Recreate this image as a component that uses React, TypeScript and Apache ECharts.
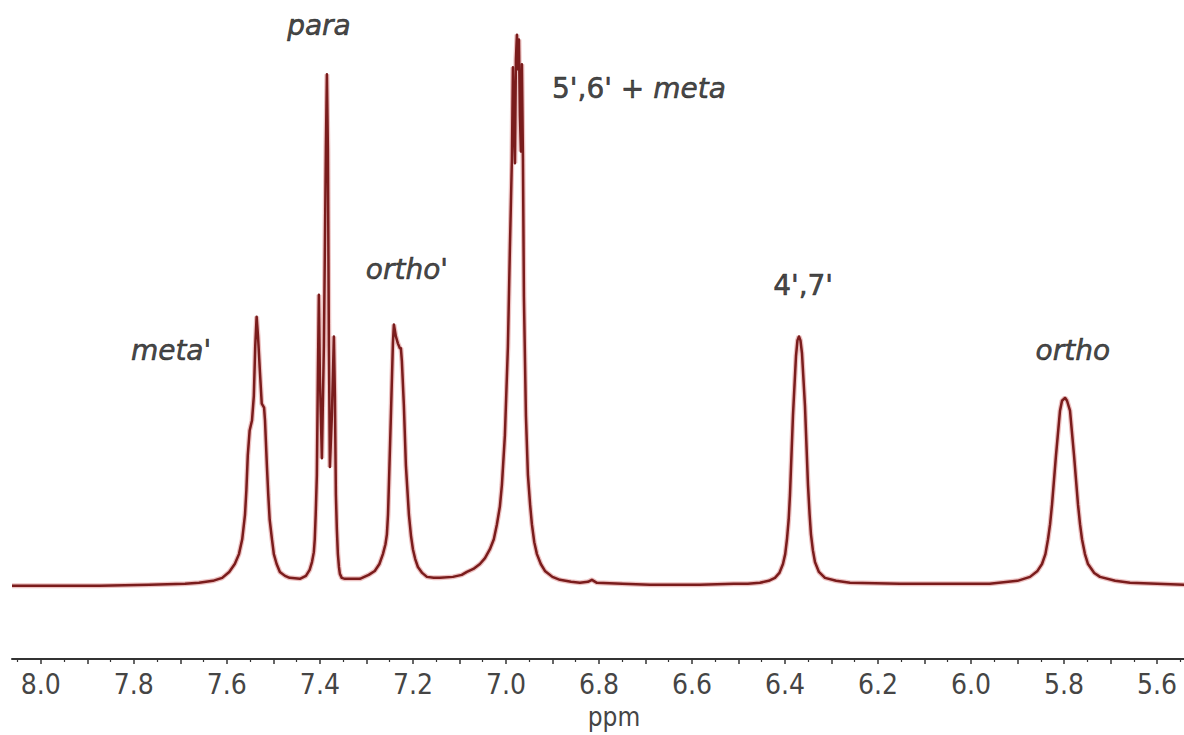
import React, { useEffect, useRef } from "react";
import * as echarts from "echarts";

// Spectrum: [ppm, intensity]
const BASE_LEFT: [number, number][] = [
  [8.062, -2], [7.959, -2], [7.873, -2], [7.766, -1], [7.69, 0], [7.66, 1],
];
const META_PRIME: [number, number][] = [
  [7.63, 3], [7.61, 6], [7.595, 12], [7.583, 20], [7.574, 30], [7.567, 45],
  [7.561, 70], [7.558, 95], [7.555, 130], [7.551, 155], [7.546, 165], [7.542, 190],
  [7.539, 240], [7.536, 270], [7.533, 250], [7.529, 215], [7.525, 182], [7.52, 178],
  [7.518, 165], [7.514, 120], [7.511, 90], [7.508, 65], [7.503, 45], [7.499, 30],
  [7.493, 20], [7.486, 12], [7.475, 8], [7.465, 6], [7.443, 5], [7.43, 8],
  [7.422, 14], [7.417, 22], [7.413, 32], [7.411, 45], [7.409, 70],
];
const PARA: [number, number][] = [
  [7.4065, 110], [7.4043, 210], [7.4022, 292], [7.4, 210], [7.3957, 127], [7.3914, 240],
  [7.3871, 440], [7.3849, 515], [7.3828, 440], [7.3806, 240], [7.3785, 118], [7.3742, 170],
  [7.3699, 250], [7.3677, 190], [7.3656, 90], [7.3635, 55], [7.3613, 30], [7.359, 17],
  [7.357, 10], [7.353, 6], [7.3462, 5], [7.33, 5], [7.314, 5],
];
const ORTHO_PRIME: [number, number][] = [
  [7.295, 9], [7.282, 13], [7.272, 20], [7.2645, 30], [7.259, 40], [7.2559, 50],
  [7.2535, 70], [7.2516, 100], [7.2473, 170], [7.243, 243], [7.2409, 262], [7.2366, 250],
  [7.2323, 243], [7.228, 238], [7.2258, 238], [7.2237, 225], [7.2194, 180], [7.2151, 120],
  [7.2086, 70], [7.204, 48], [7.2, 35], [7.195, 25], [7.1892, 17], [7.18, 11],
  [7.1699, 7], [7.155, 6], [7.1419, 6], [7.114, 7],
];
const H56_META: [number, number][] = [
  [7.095, 9], [7.0839, 12], [7.07, 15], [7.0559, 20], [7.045, 26], [7.0344, 35],
  [7.026, 45], [7.0194, 60], [7.013, 78], [7.0086, 100], [7.0022, 150], [6.9957, 240],
  [6.9914, 340], [6.9871, 430], [6.9849, 522], [6.9828, 470], [6.9806, 425], [6.9785, 530],
  [6.9763, 555], [6.9742, 520], [6.972, 550], [6.9699, 473], [6.9677, 437], [6.9656, 525],
  [6.9634, 430], [6.9613, 290], [6.957, 170], [6.9527, 110], [6.948, 80], [6.9441, 60],
  [6.939, 42], [6.9333, 30], [6.925, 20], [6.9161, 13], [6.9, 7], [6.8839, 4],
  [6.86, 2], [6.8409, 1], [6.8237, 2], [6.8151, 4], [6.8043, 1], [6.75, 0],
  [6.6903, -1], [6.5828, -1], [6.51, 0],
];
const H47: [number, number][] = [
  [6.48, 0], [6.4538, 1], [6.435, 3], [6.4215, 6], [6.412, 11], [6.4043, 20],
  [6.3995, 30], [6.3957, 45], [6.392, 65], [6.3892, 90], [6.3828, 170], [6.3763, 230],
  [6.3731, 246], [6.3699, 250], [6.3667, 246], [6.3634, 233], [6.357, 180], [6.3505, 100],
  [6.347, 70], [6.3441, 50], [6.34, 34], [6.3355, 22], [6.327, 12], [6.314, 6],
  [6.29, 3], [6.2602, 1], [6.1527, 0], [6.0452, 0],
];
const ORTHO: [number, number][] = [
  [5.96, 0], [5.9, 3], [5.8731, 7], [5.857, 13], [5.8473, 20], [5.84, 30],
  [5.8344, 45], [5.83, 60], [5.8258, 80], [5.8172, 130], [5.8086, 175], [5.8043, 185],
  [5.7978, 188], [5.7935, 185], [5.7871, 175], [5.7785, 130], [5.7699, 80], [5.7655, 60],
  [5.7613, 45], [5.755, 30], [5.7484, 20], [5.735, 11], [5.7226, 7], [5.69, 3],
  [5.6581, 1], [5.5419, -1],
];

const TICK_LABELS = [8.0, 7.8, 7.6, 7.4, 7.2, 7.0, 6.8, 6.6, 6.4, 6.2, 6.0, 5.8, 5.6];

const PEAK_LABELS = ["meta'", "para", "ortho'", "5',6' + meta", "4',7'", "ortho"];
const PEAK_LABEL_PPM = [7.72, 7.402, 7.213, 6.714, 6.361, 5.781];
const PEAK_LABEL_HEIGHT = [236, 564, 318, 501, 301, 236];
const PEAK_LABEL_ITALIC = [true, true, true, false, false, true];

const X_MIN = 5.542;
const X_MAX = 8.062;

export default function App() {
  const ref = useRef<HTMLDivElement>(null);
  useEffect(() => {
    const chart = echarts.init(ref.current!, null, { renderer: "svg" });
    const spectrum = [
      ...BASE_LEFT, ...META_PRIME, ...PARA, ...ORTHO_PRIME, ...H56_META, ...H47, ...ORTHO,
    ];
    const majorTicks: number[] = [];
    for (let i = 56; i <= 80; i++) majorTicks.push(i / 10);
    const minorTicks: number[] = [];
    for (let i = 111; i <= 161; i += 2) minorTicks.push(i / 20);

    const axisFont = "'DejaVu Sans Condensed', 'Liberation Sans Narrow', 'DejaVu Sans', sans-serif";
    const labelFont = "'DejaVu Sans', sans-serif";
    const labelInk = "#151515";
    const labelData = PEAK_LABELS.map((t, i) => ({
      value: [PEAK_LABEL_PPM[i], PEAK_LABEL_HEIGHT[i]],
      label: {
        formatter: t === "5',6' + meta" ? "{n|5',6' + }{i|meta}" : t,
        fontStyle: PEAK_LABEL_ITALIC[i] ? "italic" : "normal",
      },
    }));
    const inkStyle = {
      fontFamily: labelFont,
      fontSize: 28,
      color: labelInk,
      textBorderColor: labelInk,
      textBorderWidth: 0.6,
    };

    chart.setOption({
      animation: false,
      backgroundColor: "#ffffff",
      grid: { left: 12, right: 0, top: 0, bottom: 69, containLabel: false },
      xAxis: [
        {
          type: "value",
          min: X_MIN,
          max: X_MAX,
          inverse: true,
          position: "bottom",
          axisLine: { show: true, onZero: false, lineStyle: { color: "#333333", width: 2 } },
          axisTick: {
            show: true,
            customValues: majorTicks,
            length: 5,
            lineStyle: { color: "#333333", width: 1.5 },
          },
          axisLabel: {
            customValues: TICK_LABELS,
            formatter: (v: number) => v.toFixed(1),
            fontFamily: axisFont,
            fontSize: 28,
            color: "#454545",
            margin: 11,
          },
          splitLine: { show: false },
          name: "ppm",
          nameLocation: "middle",
          nameGap: 45,
          nameTextStyle: {
            fontFamily: axisFont,
            fontSize: 26,
            color: "#454545",
            padding: [0, 0, 0, 32],
          },
        },
        {
          type: "value",
          min: X_MIN,
          max: X_MAX,
          inverse: true,
          position: "bottom",
          offset: 0,
          axisLine: { show: false, onZero: false },
          axisTick: {
            show: true,
            customValues: minorTicks,
            length: 3,
            lineStyle: { color: "#333333", width: 1.2 },
          },
          axisLabel: { show: false },
          splitLine: { show: false },
        },
      ],
      yAxis: { type: "value", min: -76, max: 590, show: false },
      series: [
        {
          type: "line",
          data: spectrum,
          showSymbol: false,
          silent: true,
          lineStyle: { color: "rgba(215,120,120,0.45)", width: 5 },
        },
        {
          type: "line",
          data: spectrum,
          showSymbol: false,
          lineStyle: { color: "#7a1c1c", width: 2.5, join: "round" },
        },
        {
          type: "scatter",
          data: labelData,
          symbolSize: 1,
          clip: false,
          itemStyle: { color: "rgba(0,0,0,0)" },
          label: {
            show: true,
            position: "inside",
            ...inkStyle,
            rich: {
              n: { ...inkStyle, fontStyle: "normal" },
              i: { ...inkStyle, fontStyle: "italic" },
            },
          },
        },
      ],
    });
    return () => chart.dispose();
  }, []);
  return (
    <div
      ref={ref}
      style={{ position: "fixed", left: 0, top: 0, width: 1184, height: 735 }}
    />
  );
}
